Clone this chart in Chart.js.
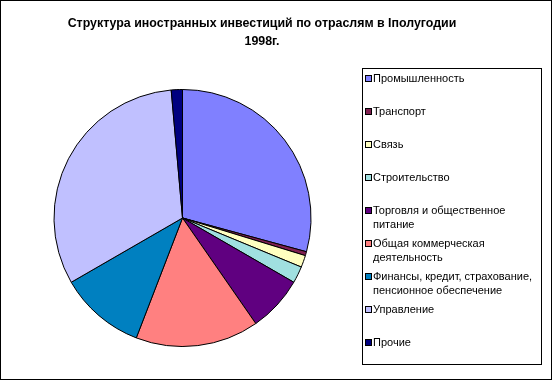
<!DOCTYPE html>
<html>
<head>
<meta charset="utf-8">
<script src="https://cdn.jsdelivr.net/npm/chart.js@4.4.0/dist/chart.umd.min.js"></script>
<style>
  body { margin: 0; background: #fff; }
  canvas { display: block; }
</style>
</head>
<body>
<canvas id="pie" width="552" height="380"></canvas>
<script>
// Data for the chart (shares, %)
const titleLines = ["Структура иностранных инвестиций по отраслям в Iполугодии", "1998г."];
const sectors = [
  ["Промышленность"],
  ["Транспорт"],
  ["Связь"],
  ["Строительство"],
  ["Торговля и общественное", "питание"],
  ["Общая коммерческая", "деятельность"],
  ["Финансы, кредит, страхование,", "пенсионное обеспечение"],
  ["Управление"],
  ["Прочие"]
];
const shares = [29.2, 0.5, 1.5, 2.1, 7.0, 15.5, 10.8, 31.9, 1.4];
const sliceColors = ["#8080FF", "#802050", "#FFFFC0", "#A0E0E0", "#600080", "#FF8080", "#0080C0", "#C0C0FF", "#000080"];

// Title, legend box and outer frame drawn on the canvas
const excelDecor = {
  id: "excelDecor",
  afterDraw(chart) {
    const ctx = chart.ctx;
    ctx.save();
    ctx.fillStyle = "#000";
    ctx.textAlign = "center";
    ctx.textBaseline = "middle";
    ctx.font = "bold 12.4px 'Liberation Sans', Arial, sans-serif";
    ctx.fillText(titleLines[0], 262, 24);
    ctx.fillText(titleLines[1], 262, 42);

    // legend
    ctx.strokeStyle = "#000";
    ctx.lineWidth = 1;
    ctx.strokeRect(362.5, 68.5, 179, 296);
    ctx.font = "11px 'Liberation Sans', Arial, sans-serif";
    ctx.textAlign = "left";
    const labels = chart.data.labels;
    const colors = chart.data.datasets[0].backgroundColor;
    labels.forEach((lines, i) => {
      const y = 79 + i * 33;
      ctx.fillStyle = colors[i];
      ctx.fillRect(365, y - 3, 6, 6);
      ctx.strokeRect(365.5, y - 3.5, 6, 6);
      ctx.fillStyle = "#000";
      lines.forEach((line, j) => ctx.fillText(line, 373, y + j * 14));
    });

    // outer frame
    ctx.strokeRect(0.5, 0.5, 551, 379);
    ctx.restore();
  }
};

const myChart = new Chart(document.getElementById("pie"), {
  type: "pie",
  plugins: [excelDecor],
  data: {
    labels: sectors,
    datasets: [{
      data: shares,
      backgroundColor: sliceColors,
      borderColor: "#000",
      borderWidth: 1
    }]
  },
  options: {
    responsive: false,
    animation: false,
    layout: { padding: { left: 53, right: 240, top: 89, bottom: 33 } },
    plugins: {
      legend: { display: false },
      title: { display: false },
      tooltip: { enabled: false }
    }
  }
});
</script>
</body>
</html>
